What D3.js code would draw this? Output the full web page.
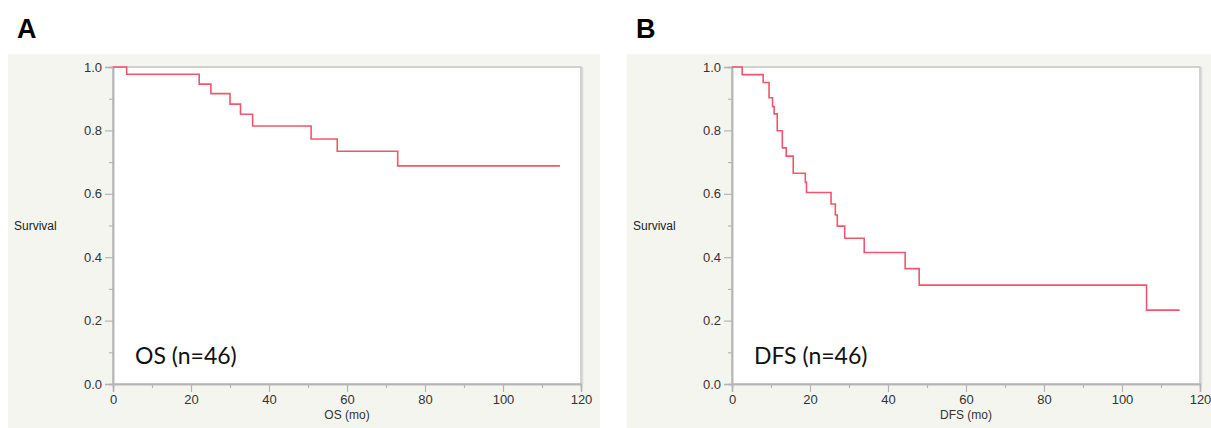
<!DOCTYPE html>
<html>
<head>
<meta charset="utf-8">
<script src="https://cdn.jsdelivr.net/npm/d3@7"></script>
<style>
  body { margin: 0; background: #fff; }
  svg { display: block; }
  .tick text { font-family: "Liberation Sans", Arial, sans-serif; font-size: 13px; fill: #333; }
</style>
</head>
<body>
<svg id="chart"></svg>
<script>
const width = 1211
const height = 428

// OS curve: event times (months) and survival after each step
const osTimes = [3.5, 22.1, 25.1, 30.0, 32.7, 35.8, 50.8, 57.5, 73.0]
const osSurv = [0.977, 0.946, 0.916, 0.883, 0.851, 0.814, 0.773, 0.734, 0.688]
const osEnd = 114.6

// DFS curve
const dfsTimes = [2.6, 8.0, 9.5, 10.4, 10.8, 11.6, 12.9, 13.9, 15.7, 18.8, 19.1, 25.4, 26.5, 27.0, 28.9, 33.9, 44.4, 48.0, 106.3]
const dfsSurv = [0.976, 0.951, 0.903, 0.875, 0.852, 0.799, 0.745, 0.719, 0.665, 0.636, 0.604, 0.568, 0.533, 0.498, 0.460, 0.415, 0.364, 0.312, 0.233]
const dfsEnd = 114.8

const xTicks = [0, 20, 40, 60, 80, 100, 120]
const xMinor = [10, 30, 50, 70, 90, 110]
const yTicks = [0, 0.2, 0.4, 0.6, 0.8, 1.0]
const yMinor = [0.1, 0.3, 0.5, 0.7, 0.9]

const panels = [
  {letter: "A", bgX: 8, bgW: 592, left: 113, times: osTimes, surv: osSurv, end: osEnd, xTitle: "OS (mo)", note: "OS (n=46)"},
  {letter: "B", bgX: 627, bgW: 584, left: 732, times: dfsTimes, surv: dfsSurv, end: dfsEnd, xTitle: "DFS (mo)", note: "DFS (n=46)"}
]

const svg = d3.select('#chart').attr('width', width).attr('height', height)

const plotW = 468
const plotTop = 67, plotBottom = 384

panels.forEach(function (p) {
  const g = svg.append('g')

  // 背景
  g.append('rect').attr('x', p.bgX).attr('y', 54).attr('width', p.bgW).attr('height', height - 54)
    .attr('fill', '#f5f5f0')

  g.append('text').attr('x', p.bgX + 9).attr('y', 38).text(p.letter)
    .style('font-family', '"Liberation Sans", Arial, sans-serif').style('font-weight', 'bold').style('font-size', '27px')

  const x = d3.scaleLinear().domain([0, 120]).range([p.left, p.left + plotW])
  const y = d3.scaleLinear().domain([0, 1]).range([plotBottom, plotTop])

  // 绘图区
  g.append('rect').attr('x', x(0)).attr('y', y(1)).attr('width', plotW).attr('height', plotBottom - plotTop)
    .attr('fill', '#fff').attr('stroke', '#c4c4c4').attr('stroke-width', 1.5)
  g.append('line').attr('x1', x(120) + 1.5).attr('x2', x(120) + 1.5).attr('y1', y(1)).attr('y2', y(0))
    .attr('stroke', '#dcdcdc').attr('stroke-width', 1.5)

  // 坐标轴
  const xAxis = g.append('g').attr('transform', 'translate(0,' + plotBottom + ')')
    .call(d3.axisBottom(x).tickValues(xTicks).tickSize(8).tickPadding(3).tickFormat(d3.format('d')))
  const xAxisMinor = g.append('g').attr('transform', 'translate(0,' + plotBottom + ')')
    .call(d3.axisBottom(x).tickValues(xMinor).tickSize(4).tickFormat(''))
  const yAxis = g.append('g').attr('transform', 'translate(' + p.left + ',0)')
    .call(d3.axisLeft(y).tickValues(yTicks).tickSize(8).tickPadding(3).tickFormat(d3.format('.1f')))
  const yAxisMinor = g.append('g').attr('transform', 'translate(' + p.left + ',0)')
    .call(d3.axisLeft(y).tickValues(yMinor).tickSize(4).tickFormat(''))
  ;[xAxis, xAxisMinor, yAxis, yAxisMinor].forEach(function (a) {
    a.select('.domain').attr('stroke', '#b4b4b4').attr('stroke-width', 1.5)
    a.selectAll('.tick line').attr('stroke', '#b4b4b4').attr('stroke-width', 1.2)
  })

  // 生存曲线
  const pts = [[0, 1]]
  p.times.forEach(function (t, i) { pts.push([t, p.surv[i]]) })
  pts.push([p.end, p.surv[p.surv.length - 1]])
  const line = d3.line().x(d => x(d[0])).y(d => y(d[1])).curve(d3.curveStepAfter)
  g.append('path').datum(pts).attr('d', line).attr('fill', 'none')
    .attr('stroke', '#f0566e').attr('stroke-width', 1.6)

  // 文字
  g.append('text').attr('x', p.bgX + 6).attr('y', 230).text('Survival')
    .style('font-family', '"Liberation Sans", Arial, sans-serif').style('font-size', '12px').attr('fill', '#222')
  g.append('text').attr('x', x(60)).attr('y', 419).attr('text-anchor', 'middle').text(p.xTitle)
    .style('font-family', '"Liberation Sans", Arial, sans-serif').style('font-size', '12px').attr('fill', '#333')
  g.append('text').attr('x', p.left + 22).attr('y', 364).text(p.note)
    .style('font-family', 'Lato, "Open Sans", sans-serif').style('font-size', '23px').attr('fill', '#111')
})
</script>
</body>
</html>
